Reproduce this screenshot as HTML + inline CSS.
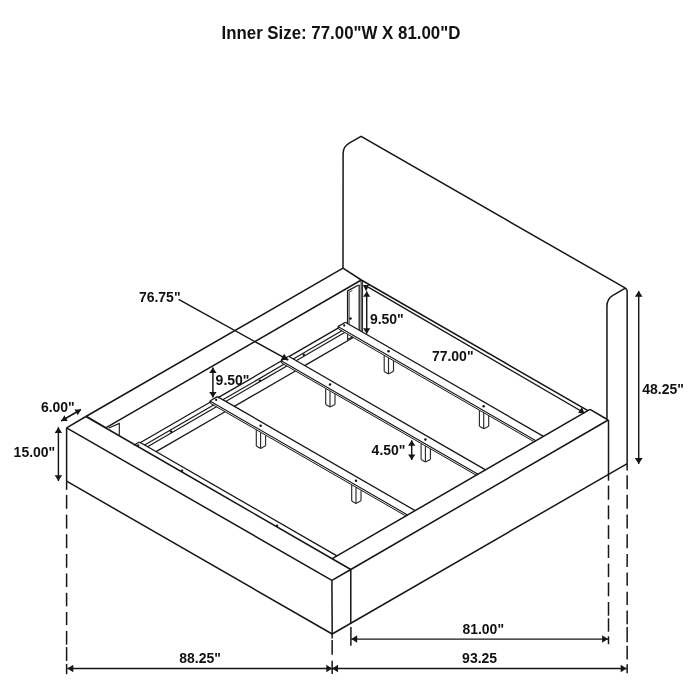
<!DOCTYPE html>
<html><head><meta charset="utf-8"><title>Bed frame dimensions</title>
<style>
html,body{margin:0;padding:0;background:#fff;}
body{width:700px;height:700px;overflow:hidden;}
svg{display:block;will-change:transform;}
text{font-family:"Liberation Sans",sans-serif;font-weight:bold;fill:#111;}
</style></head>
<body>
<svg width="700" height="700" viewBox="0 0 700 700">
<rect width="700" height="700" fill="#ffffff"/>
<g stroke-linecap="butt" stroke-linejoin="miter" fill="none">
<path d="M343.0,268.2 L343.1,153.4 C343.1,148.0 345.0,145.4 349.6,142.8 L361.1,136.4 L625.4,288.2 Q627.1,289.0 627.15,291.2 L627.15,463.6" stroke="#161616" stroke-width="1.5" fill="none" />
<path d="M612.9,295.4 L625.4,288.2" stroke="#161616" stroke-width="1.5" fill="none" />
<path d="M606.95,418.8 L606.95,306.2 C606.95,301.2 608.6,297.9 612.9,295.4" stroke="#161616" stroke-width="1.5" fill="none" />
<line x1="66.60" y1="427.80" x2="331.90" y2="580.30" stroke="#161616" stroke-width="1.5" />
<line x1="85.90" y1="416.50" x2="350.80" y2="569.50" stroke="#161616" stroke-width="1.5" />
<line x1="66.60" y1="427.80" x2="85.90" y2="416.50" stroke="#161616" stroke-width="1.5" />
<line x1="331.90" y1="580.30" x2="350.80" y2="569.50" stroke="#161616" stroke-width="1.5" />
<line x1="66.60" y1="427.80" x2="66.60" y2="481.20" stroke="#161616" stroke-width="1.5" />
<line x1="331.90" y1="580.30" x2="332.20" y2="634.00" stroke="#161616" stroke-width="1.5" />
<line x1="350.80" y1="569.50" x2="350.80" y2="623.40" stroke="#161616" stroke-width="1.5" />
<line x1="66.60" y1="481.20" x2="332.20" y2="634.00" stroke="#161616" stroke-width="1.5" />
<line x1="86.50" y1="415.95" x2="107.00" y2="428.10" stroke="#161616" stroke-width="0.9" />
<line x1="332.20" y1="634.00" x2="627.20" y2="463.60" stroke="#161616" stroke-width="1.5" />
<line x1="350.80" y1="569.50" x2="608.20" y2="420.00" stroke="#161616" stroke-width="1.5" />
<line x1="608.20" y1="420.00" x2="590.00" y2="409.40" stroke="#161616" stroke-width="1.5" />
<line x1="590.00" y1="409.40" x2="332.20" y2="558.60" stroke="#161616" stroke-width="1.5" />
<line x1="608.50" y1="420.00" x2="608.50" y2="474.50" stroke="#161616" stroke-width="1.5" />
<line x1="85.90" y1="416.50" x2="343.00" y2="268.20" stroke="#161616" stroke-width="1.5" />
<line x1="343.00" y1="268.20" x2="361.30" y2="280.00" stroke="#161616" stroke-width="1.5" />
<line x1="361.30" y1="280.00" x2="105.75" y2="427.96" stroke="#161616" stroke-width="1.5" />
<line x1="361.30" y1="280.00" x2="587.90" y2="410.60" stroke="#161616" stroke-width="1.5" />
<line x1="345.40" y1="322.20" x2="543.42" y2="436.36" stroke="#161616" stroke-width="1.3" />
<line x1="337.90" y1="326.60" x2="535.87" y2="440.73" stroke="#161616" stroke-width="1.1" />
<line x1="338.50" y1="328.95" x2="534.13" y2="441.73" stroke="#161616" stroke-width="1.0" />
<line x1="345.40" y1="322.20" x2="337.90" y2="326.60" stroke="#161616" stroke-width="1.25" />
<line x1="337.90" y1="326.60" x2="338.50" y2="328.95" stroke="#161616" stroke-width="1.0" />
<circle cx="344.20" cy="325.50" r="1.15" fill="#161616"/>
<circle cx="388.50" cy="351.35" r="1.25" fill="#161616"/>
<circle cx="483.70" cy="406.23" r="1.25" fill="#161616"/>
<line x1="384.20" y1="355.57" x2="384.20" y2="371.45" stroke="#2a2a2a" stroke-width="1.15" />
<line x1="388.50" y1="358.05" x2="388.50" y2="373.95" stroke="#2a2a2a" stroke-width="1.15" />
<line x1="393.50" y1="360.93" x2="393.50" y2="371.35" stroke="#2a2a2a" stroke-width="1.15" />
<line x1="384.20" y1="371.45" x2="388.50" y2="373.95" stroke="#2a2a2a" stroke-width="1.15" />
<line x1="388.50" y1="373.95" x2="393.50" y2="371.35" stroke="#2a2a2a" stroke-width="1.15" />
<line x1="479.40" y1="410.45" x2="479.40" y2="426.33" stroke="#2a2a2a" stroke-width="1.15" />
<line x1="483.70" y1="412.93" x2="483.70" y2="428.83" stroke="#2a2a2a" stroke-width="1.15" />
<line x1="488.70" y1="415.81" x2="488.70" y2="426.23" stroke="#2a2a2a" stroke-width="1.15" />
<line x1="479.40" y1="426.33" x2="483.70" y2="428.83" stroke="#2a2a2a" stroke-width="1.15" />
<line x1="483.70" y1="428.83" x2="488.70" y2="426.23" stroke="#2a2a2a" stroke-width="1.15" />
<line x1="288.60" y1="356.30" x2="485.56" y2="469.85" stroke="#161616" stroke-width="1.3" />
<line x1="281.10" y1="360.70" x2="478.01" y2="474.22" stroke="#161616" stroke-width="1.1" />
<line x1="281.70" y1="363.05" x2="476.27" y2="475.22" stroke="#161616" stroke-width="1.0" />
<line x1="288.60" y1="356.30" x2="281.10" y2="360.70" stroke="#161616" stroke-width="1.25" />
<line x1="281.10" y1="360.70" x2="281.70" y2="363.05" stroke="#161616" stroke-width="1.0" />
<circle cx="287.40" cy="359.60" r="1.15" fill="#161616"/>
<circle cx="330.00" cy="384.47" r="1.25" fill="#161616"/>
<circle cx="425.40" cy="439.47" r="1.25" fill="#161616"/>
<line x1="325.70" y1="388.69" x2="325.70" y2="404.57" stroke="#2a2a2a" stroke-width="1.15" />
<line x1="330.00" y1="391.17" x2="330.00" y2="407.07" stroke="#2a2a2a" stroke-width="1.15" />
<line x1="335.00" y1="394.05" x2="335.00" y2="404.47" stroke="#2a2a2a" stroke-width="1.15" />
<line x1="325.70" y1="404.57" x2="330.00" y2="407.07" stroke="#2a2a2a" stroke-width="1.15" />
<line x1="330.00" y1="407.07" x2="335.00" y2="404.47" stroke="#2a2a2a" stroke-width="1.15" />
<line x1="421.10" y1="443.69" x2="421.10" y2="459.57" stroke="#2a2a2a" stroke-width="1.15" />
<line x1="425.40" y1="446.17" x2="425.40" y2="462.07" stroke="#2a2a2a" stroke-width="1.15" />
<line x1="430.40" y1="449.05" x2="430.40" y2="459.47" stroke="#2a2a2a" stroke-width="1.15" />
<line x1="421.10" y1="459.57" x2="425.40" y2="462.07" stroke="#2a2a2a" stroke-width="1.15" />
<line x1="425.40" y1="462.07" x2="430.40" y2="459.47" stroke="#2a2a2a" stroke-width="1.15" />
<line x1="217.40" y1="396.60" x2="415.14" y2="510.60" stroke="#161616" stroke-width="1.3" />
<line x1="209.90" y1="401.00" x2="407.59" y2="514.97" stroke="#161616" stroke-width="1.1" />
<line x1="210.50" y1="403.35" x2="405.86" y2="515.97" stroke="#161616" stroke-width="1.0" />
<line x1="217.40" y1="396.60" x2="209.90" y2="401.00" stroke="#161616" stroke-width="1.25" />
<line x1="209.90" y1="401.00" x2="210.50" y2="403.35" stroke="#161616" stroke-width="1.0" />
<circle cx="216.20" cy="399.90" r="1.15" fill="#161616"/>
<circle cx="260.60" cy="425.80" r="1.25" fill="#161616"/>
<circle cx="356.00" cy="480.80" r="1.25" fill="#161616"/>
<line x1="256.30" y1="430.03" x2="256.30" y2="445.90" stroke="#2a2a2a" stroke-width="1.15" />
<line x1="260.60" y1="432.50" x2="260.60" y2="448.40" stroke="#2a2a2a" stroke-width="1.15" />
<line x1="265.60" y1="435.39" x2="265.60" y2="445.80" stroke="#2a2a2a" stroke-width="1.15" />
<line x1="256.30" y1="445.90" x2="260.60" y2="448.40" stroke="#2a2a2a" stroke-width="1.15" />
<line x1="260.60" y1="448.40" x2="265.60" y2="445.80" stroke="#2a2a2a" stroke-width="1.15" />
<line x1="351.70" y1="485.02" x2="351.70" y2="500.90" stroke="#2a2a2a" stroke-width="1.15" />
<line x1="356.00" y1="487.50" x2="356.00" y2="503.40" stroke="#2a2a2a" stroke-width="1.15" />
<line x1="361.00" y1="490.39" x2="361.00" y2="500.80" stroke="#2a2a2a" stroke-width="1.15" />
<line x1="351.70" y1="500.90" x2="356.00" y2="503.40" stroke="#2a2a2a" stroke-width="1.15" />
<line x1="356.00" y1="503.40" x2="361.00" y2="500.80" stroke="#2a2a2a" stroke-width="1.15" />
<line x1="139.40" y1="442.00" x2="336.92" y2="555.87" stroke="#161616" stroke-width="1.25" />
<line x1="139.40" y1="442.00" x2="133.78" y2="445.30" stroke="#161616" stroke-width="1.25" />
<circle cx="138.20" cy="445.30" r="1.15" fill="#161616"/>
<circle cx="182.00" cy="470.86" r="1.25" fill="#161616"/>
<circle cx="277.00" cy="525.63" r="1.25" fill="#161616"/>
<line x1="338.50" y1="327.89" x2="288.90" y2="356.61" stroke="#161616" stroke-width="1.3" />
<line x1="341.82" y1="330.87" x2="293.26" y2="358.98" stroke="#161616" stroke-width="1.15" />
<line x1="344.68" y1="332.51" x2="296.11" y2="360.63" stroke="#161616" stroke-width="1.15" />
<line x1="353.25" y1="337.45" x2="304.68" y2="365.57" stroke="#161616" stroke-width="1.3" />
<line x1="281.70" y1="360.78" x2="217.70" y2="397.83" stroke="#161616" stroke-width="1.3" />
<line x1="283.97" y1="364.36" x2="222.86" y2="399.75" stroke="#161616" stroke-width="1.15" />
<line x1="286.83" y1="366.01" x2="225.71" y2="401.39" stroke="#161616" stroke-width="1.15" />
<line x1="295.40" y1="370.95" x2="234.28" y2="406.33" stroke="#161616" stroke-width="1.3" />
<line x1="210.50" y1="402.00" x2="139.70" y2="442.99" stroke="#161616" stroke-width="1.3" />
<line x1="213.57" y1="405.12" x2="144.65" y2="445.03" stroke="#161616" stroke-width="1.15" />
<line x1="216.43" y1="406.77" x2="147.51" y2="446.67" stroke="#161616" stroke-width="1.15" />
<line x1="225.00" y1="411.71" x2="156.08" y2="451.61" stroke="#161616" stroke-width="1.3" />
<circle cx="303.80" cy="354.70" r="1.2" fill="#161616"/>
<circle cx="260.00" cy="380.60" r="1.2" fill="#161616"/>
<circle cx="171.00" cy="431.50" r="1.2" fill="#161616"/>
<path d="M347.6,323.4 L347.6,291.0 L358.6,285.0" stroke="#161616" stroke-width="1.35" fill="none" />
<path d="M349.2,324.2 L349.2,292.2 L352.4,290.5" stroke="#333" stroke-width="0.9" fill="none" />
<line x1="359.20" y1="284.80" x2="359.20" y2="330.00" stroke="#161616" stroke-width="1.25" />
<line x1="361.15" y1="280.20" x2="361.15" y2="331.20" stroke="#161616" stroke-width="1.05" />
<line x1="362.55" y1="281.00" x2="362.55" y2="332.00" stroke="#161616" stroke-width="0.95" />
<circle cx="350.50" cy="318.40" r="1.25" fill="#161616"/>
<path d="M347.6,334.2 L347.6,339.4 L352.4,336.8" stroke="#161616" stroke-width="1.1" fill="none" />
<path d="M108.8,428.0 L119.3,423.4 L119.3,435.0" stroke="#161616" stroke-width="1.1" fill="none" />
<line x1="66.60" y1="481.20" x2="66.60" y2="489.80" stroke="#161616" stroke-width="1.5" />
<line x1="66.60" y1="494.90" x2="66.60" y2="508.80" stroke="#161616" stroke-width="1.5" />
<line x1="66.60" y1="514.60" x2="66.60" y2="528.60" stroke="#161616" stroke-width="1.5" />
<line x1="66.60" y1="534.20" x2="66.60" y2="548.20" stroke="#161616" stroke-width="1.5" />
<line x1="66.60" y1="554.00" x2="66.60" y2="567.80" stroke="#161616" stroke-width="1.5" />
<line x1="66.60" y1="573.50" x2="66.60" y2="587.10" stroke="#161616" stroke-width="1.5" />
<line x1="66.60" y1="592.80" x2="66.60" y2="606.30" stroke="#161616" stroke-width="1.5" />
<line x1="66.60" y1="612.00" x2="66.60" y2="625.20" stroke="#161616" stroke-width="1.5" />
<line x1="66.60" y1="630.90" x2="66.60" y2="644.60" stroke="#161616" stroke-width="1.5" />
<line x1="66.60" y1="647.10" x2="66.60" y2="660.90" stroke="#161616" stroke-width="1.5" />
<line x1="66.60" y1="663.90" x2="66.60" y2="674.20" stroke="#161616" stroke-width="1.5" />
<line x1="332.15" y1="634.00" x2="332.15" y2="638.40" stroke="#161616" stroke-width="1.5" />
<line x1="332.15" y1="640.10" x2="332.15" y2="654.70" stroke="#161616" stroke-width="1.5" />
<line x1="332.15" y1="660.70" x2="332.15" y2="674.00" stroke="#161616" stroke-width="1.5" />
<line x1="608.50" y1="474.50" x2="608.50" y2="480.70" stroke="#161616" stroke-width="1.5" />
<line x1="608.50" y1="485.50" x2="608.50" y2="499.70" stroke="#161616" stroke-width="1.5" />
<line x1="608.50" y1="505.40" x2="608.50" y2="519.30" stroke="#161616" stroke-width="1.5" />
<line x1="608.50" y1="525.20" x2="608.50" y2="539.00" stroke="#161616" stroke-width="1.5" />
<line x1="608.50" y1="544.80" x2="608.50" y2="558.00" stroke="#161616" stroke-width="1.5" />
<line x1="608.50" y1="563.60" x2="608.50" y2="577.10" stroke="#161616" stroke-width="1.5" />
<line x1="608.50" y1="582.50" x2="608.50" y2="596.30" stroke="#161616" stroke-width="1.5" />
<line x1="608.50" y1="602.00" x2="608.50" y2="615.70" stroke="#161616" stroke-width="1.5" />
<line x1="608.50" y1="618.30" x2="608.50" y2="631.70" stroke="#161616" stroke-width="1.5" />
<line x1="608.50" y1="636.30" x2="608.50" y2="644.20" stroke="#161616" stroke-width="1.5" />
<line x1="627.15" y1="463.60" x2="627.15" y2="470.40" stroke="#161616" stroke-width="1.5" />
<line x1="627.15" y1="475.20" x2="627.15" y2="489.20" stroke="#161616" stroke-width="1.5" />
<line x1="627.15" y1="494.80" x2="627.15" y2="508.80" stroke="#161616" stroke-width="1.5" />
<line x1="627.15" y1="514.50" x2="627.15" y2="528.50" stroke="#161616" stroke-width="1.5" />
<line x1="627.15" y1="534.20" x2="627.15" y2="548.20" stroke="#161616" stroke-width="1.5" />
<line x1="627.15" y1="553.90" x2="627.15" y2="567.00" stroke="#161616" stroke-width="1.5" />
<line x1="627.15" y1="572.50" x2="627.15" y2="585.80" stroke="#161616" stroke-width="1.5" />
<line x1="627.15" y1="591.70" x2="627.15" y2="604.90" stroke="#161616" stroke-width="1.5" />
<line x1="627.15" y1="610.60" x2="627.15" y2="624.30" stroke="#161616" stroke-width="1.5" />
<line x1="627.15" y1="626.90" x2="627.15" y2="642.30" stroke="#161616" stroke-width="1.5" />
<line x1="627.15" y1="645.70" x2="627.15" y2="659.40" stroke="#161616" stroke-width="1.5" />
<line x1="627.15" y1="664.20" x2="627.15" y2="673.20" stroke="#161616" stroke-width="1.5" />
<line x1="350.90" y1="626.90" x2="350.90" y2="645.70" stroke="#161616" stroke-width="1.5" />
<line x1="67.40" y1="668.50" x2="332.20" y2="668.50" stroke="#161616" stroke-width="1.45" />
<polygon points="67.40,668.50 73.30,664.75 73.30,672.25" fill="#161616"/>
<polygon points="332.20,668.50 326.30,672.25 326.30,664.75" fill="#161616"/>
<line x1="332.10" y1="668.50" x2="626.60" y2="668.50" stroke="#161616" stroke-width="1.45" />
<polygon points="332.10,668.50 338.00,664.75 338.00,672.25" fill="#161616"/>
<polygon points="626.60,668.50 620.70,672.25 620.70,664.75" fill="#161616"/>
<line x1="351.30" y1="639.10" x2="608.00" y2="639.10" stroke="#161616" stroke-width="1.45" />
<polygon points="351.30,639.10 357.20,635.35 357.20,642.85" fill="#161616"/>
<polygon points="608.00,639.10 602.10,642.85 602.10,635.35" fill="#161616"/>
<line x1="638.70" y1="291.00" x2="638.70" y2="463.90" stroke="#161616" stroke-width="1.45" />
<polygon points="638.70,291.00 642.60,296.80 634.80,296.80" fill="#161616"/>
<polygon points="638.70,463.90 634.80,458.10 642.60,458.10" fill="#161616"/>
<line x1="58.40" y1="427.20" x2="58.40" y2="481.00" stroke="#161616" stroke-width="1.45" />
<polygon points="58.40,427.20 62.10,433.00 54.70,433.00" fill="#161616"/>
<polygon points="58.40,481.00 54.70,475.20 62.10,475.20" fill="#161616"/>
<line x1="61.20" y1="421.00" x2="81.00" y2="409.50" stroke="#161616" stroke-width="1.45" />
<polygon points="61.20,421.00 64.39,415.33 67.70,421.04" fill="#161616"/>
<polygon points="81.00,409.50 77.81,415.17 74.50,409.46" fill="#161616"/>
<line x1="212.90" y1="367.50" x2="212.90" y2="397.60" stroke="#161616" stroke-width="1.45" />
<polygon points="212.90,367.50 216.60,373.10 209.20,373.10" fill="#161616"/>
<polygon points="212.90,397.60 209.20,392.00 216.60,392.00" fill="#161616"/>
<line x1="411.70" y1="440.30" x2="411.70" y2="460.00" stroke="#161616" stroke-width="1.45" />
<polygon points="411.70,440.30 415.30,445.80 408.10,445.80" fill="#161616"/>
<polygon points="411.70,460.00 408.10,454.50 415.30,454.50" fill="#161616"/>
<line x1="366.70" y1="291.40" x2="366.70" y2="333.70" stroke="#161616" stroke-width="1.45" />
<polygon points="366.70,291.40 370.30,296.80 363.10,296.80" fill="#161616"/>
<polygon points="366.70,333.70 363.10,328.30 370.30,328.30" fill="#161616"/>
<polygon points="362.90,284.90 369.00,284.90 366.20,291.40" fill="#161616"/>
<line x1="368.20" y1="287.20" x2="581.00" y2="411.00" stroke="#161616" stroke-width="1.4" />
<polygon points="584.40,413.30 581.90,407.00 578.10,412.90" fill="#161616"/>
<line x1="178.60" y1="299.40" x2="284.00" y2="357.70" stroke="#161616" stroke-width="1.45" />
<polygon points="288.20,360.00 280.68,359.96 284.17,353.66" fill="#161616"/>
<text transform="translate(221.50 39.20) scale(1 1.04)" font-size="16.85" >Inner Size: 77.00"W X 81.00"D</text>
<text transform="translate(138.90 302.40) scale(1 1.04)" font-size="14" >76.75"</text>
<text transform="translate(369.90 323.80) scale(1 1.04)" font-size="14" >9.50"</text>
<text transform="translate(431.90 360.80) scale(1 1.04)" font-size="14" >77.00"</text>
<text transform="translate(215.60 385.40) scale(1 1.04)" font-size="14" >9.50"</text>
<text transform="translate(40.90 412.40) scale(1 1.04)" font-size="14" >6.00"</text>
<text transform="translate(13.60 457.40) scale(1 1.04)" font-size="14" >15.00"</text>
<text transform="translate(371.60 454.60) scale(1 1.04)" font-size="14" >4.50"</text>
<text transform="translate(642.20 394.00) scale(1 1.04)" font-size="14" >48.25"</text>
<text transform="translate(179.20 663.00) scale(1 1.04)" font-size="14" >88.25"</text>
<text transform="translate(462.40 634.40) scale(1 1.04)" font-size="14" >81.00"</text>
<text transform="translate(462.10 663.00) scale(1 1.04)" font-size="14" >93.25</text>
</g>
</svg>
</body></html>
